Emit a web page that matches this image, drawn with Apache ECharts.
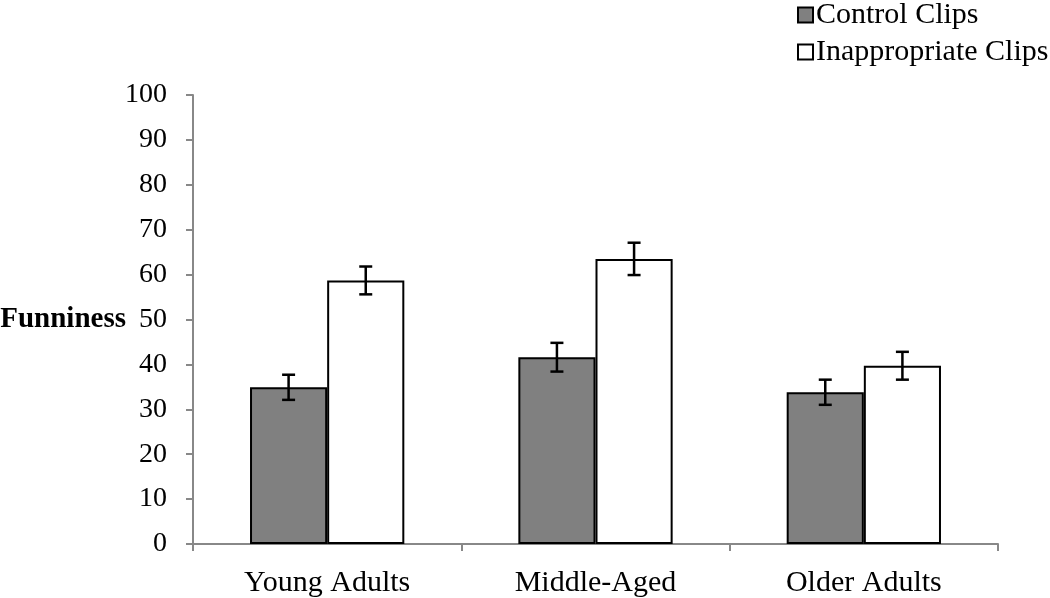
<!DOCTYPE html>
<html><head><meta charset="utf-8">
<script src="https://cdn.jsdelivr.net/npm/echarts@6/dist/echarts.min.js"></script>
<style>html,body{margin:0;padding:0;background:#fff}#c{width:1050px;height:598px}</style>
</head><body><div id="c"></div>
<script>
const categories = ['Young Adults', 'Middle-Aged', 'Older Adults'];
const controlVals = [34.9, 41.6, 33.8];
const controlErr = [2.8, 3.2, 2.8];
const inapVals = [58.7, 63.5, 39.7];
const inapErr = [3.1, 3.6, 3.1];
const yTicks = [0, 100, 10];

const FONT = '"Liberation Serif", "Times New Roman", serif';
const GAP = 0.425;
function errSeries(vals, errs, side) {
  return {
    type: 'custom', silent: true, z: 10,
    data: vals.map((v, i) => [i, v - errs[i], v + errs[i]]),
    renderItem: function (params, api) {
      const band = api.size([1, 0])[0];
      const bw = band * (1 - GAP) / 2;
      const lo = api.coord([api.value(0), api.value(1)]);
      const hi = api.coord([api.value(0), api.value(2)]);
      const x = lo[0] + side * bw / 2;
      const cap = 6.5;
      const st = { stroke: '#000', lineWidth: 2.5 };
      return { type: 'group', children: [
        { type: 'line', shape: { x1: x, y1: lo[1], x2: x, y2: hi[1] }, style: st },
        { type: 'line', shape: { x1: x - cap, y1: lo[1], x2: x + cap, y2: lo[1] }, style: st },
        { type: 'line', shape: { x1: x - cap, y1: hi[1], x2: x + cap, y2: hi[1] }, style: st }
      ]};
    }
  };
}
const chart = echarts.init(document.getElementById('c'));
chart.setOption({
  animation: false,
  backgroundColor: '#fff',
  textStyle: { fontFamily: FONT },
  grid: { left: 193, right: 52, top: 95, bottom: 54, containLabel: false, outerBoundsMode: 'none' },
  legend: {
    orient: 'vertical', left: 797, top: 0, padding: 0, itemWidth: 15, itemHeight: 15, itemGap: 7,
    icon: 'rect',
    textStyle: { fontFamily: FONT, fontSize: 30, color: '#000', padding: [0, 0, 0, -2] },
    data: ['Control Clips', 'Inappropriate Clips']
  },
  xAxis: {
    type: 'category', data: categories,
    axisLine: { lineStyle: { color: '#888', width: 2 } },
    axisTick: { show: true, length: 7, lineStyle: { color: '#888', width: 2 } },
    axisLabel: { fontFamily: FONT, fontSize: 30, color: '#000', margin: 24 }
  },
  yAxis: {
    type: 'value', min: yTicks[0], max: yTicks[1], interval: yTicks[2],
    name: 'Funniness', nameLocation: 'middle', nameGap: 67, nameRotate: 0, nameMoveOverlap: false,
    nameTextStyle: { fontFamily: FONT, fontSize: 29, fontWeight: 'bold', color: '#000', padding: [8, 0, 0, 0] },
    axisLine: { show: true, lineStyle: { color: '#888', width: 2 } },
    axisTick: { show: true, length: 7, lineStyle: { color: '#888', width: 2 } },
    axisLabel: { fontFamily: FONT, fontSize: 28, color: '#000', margin: 26 },
    splitLine: { show: false }
  },
  series: [
    { name: 'Control Clips', type: 'bar', data: controlVals, barGap: '0%', barCategoryGap: (GAP * 100) + '%',
      itemStyle: { color: '#808080', borderColor: '#000', borderWidth: 2 } },
    { name: 'Inappropriate Clips', type: 'bar', data: inapVals,
      itemStyle: { color: '#fff', borderColor: '#000', borderWidth: 2 } },
    errSeries(controlVals, controlErr, -1),
    errSeries(inapVals, inapErr, 1)
  ]
});
</script></body></html>
